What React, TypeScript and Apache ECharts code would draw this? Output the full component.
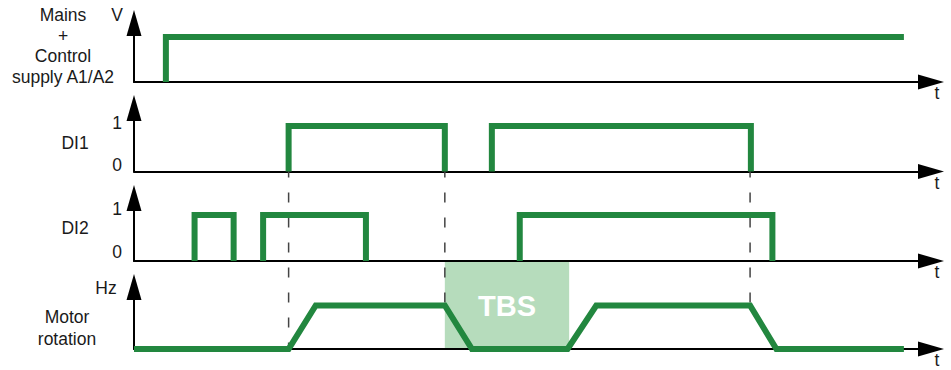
import React, { useEffect, useRef } from 'react';
import * as echarts from 'echarts';

// ---- data (time units 0..100 on each strip, level 0..1) ----
const stripNames = ['Mains\n+\nControl\nsupply A1/A2', 'DI1', 'DI2', 'Motor\nrotation'];
const unitLabels = ['V', '', '', 'Hz'];
const levelLabels = ['0', '1'];
const timeLabel = 't';

const mainsPulses = [
  [[4.0, 0], [4.0, 1], [96.6, 1]],
];
const di1Pulses = [
  [[19.4, 0], [19.4, 1], [39.0, 1], [39.0, 0]],
  [[44.9, 0], [44.9, 1], [77.4, 1], [77.4, 0]],
];
const di2Pulses = [
  [[7.6, 0], [7.6, 1], [12.5, 1], [12.5, 0]],
  [[16.2, 0], [16.2, 1], [29.1, 1], [29.1, 0]],
  [[48.4, 0], [48.4, 1], [80.1, 1], [80.1, 0]],
];
const motorSpeed = [
  [0, 0], [19.4, 0], [22.8, 1], [39.0, 1], [42.4, 0], [54.4, 0],
  [58.0, 1], [77.3, 1], [80.6, 0], [96.6, 0],
];
const tbsWindow = [39.0, 54.6];
const tbsLabel = 'TBS';
const syncMarks = [19.4, 39.0, 77.3];
const syncEnds = [0, 1, 1];

const GREEN = '#22873f';
const FONT = '"Liberation Sans", Arial, sans-serif';

const grids = [
  { top: 23, height: 59, yMax: 1.311 },
  { top: 108, height: 63.5, yMax: 1.396 },
  { top: 198, height: 63, yMax: 1.37 },
  { top: 287, height: 62, yMax: 1.425 },
];

export default function App() {
  const ref = useRef<HTMLDivElement>(null);
  useEffect(() => {
    if (!ref.current) return;
    const chart = echarts.init(ref.current, null, { renderer: 'svg' });
    const strips = [mainsPulses, di1Pulses, di2Pulses, [motorSpeed]];
    const series: any[] = [];
    strips.forEach((pulses, i) => {
      pulses.forEach((pts) => {
        series.push({
          type: 'line',
          xAxisIndex: i,
          yAxisIndex: i,
          data: pts,
          symbol: 'none',
          clip: false,
          z: 3,
          lineStyle: { color: GREEN, width: 6, join: 'miter', cap: 'butt' },
        });
      });
    });
    const axisLine = (w: number) => ({
      show: true,
      onZero: false,
      symbol: ['none', 'triangle'],
      symbolSize: [w, 26],
      lineStyle: { color: '#000', width: 2 },
    });
    const option: any = {
      animation: false,
      grid: grids.map((g) => ({ left: 134, right: 20, top: g.top, height: g.height })),
      xAxis: grids.map((g, i) => ({
        type: 'value', gridIndex: i, min: 0, max: 100, z: 1,
        axisLine: axisLine(15), axisTick: { show: false }, axisLabel: { show: false }, splitLine: { show: false },
      })),
      yAxis: grids.map((g, i) => ({
        type: 'value', gridIndex: i, min: 0, max: g.yMax, z: 1,
        axisLine: axisLine(15), axisTick: { show: false }, axisLabel: { show: false }, splitLine: { show: false },
      })),
      series,
    };
    chart.setOption(option);

    const px = (gi: number, x: number, y: number) =>
      chart.convertToPixel({ gridIndex: gi } as any, [x, y]) as number[];

    const graphic: any[] = [];
    const a = px(3, tbsWindow[0], 0);
    const b = px(2, tbsWindow[1], 0);
    graphic.push({
      type: 'rect', z: 0,
      shape: { x: a[0], y: b[1], width: b[0] - a[0], height: a[1] - b[1] },
      style: { fill: '#b6dcbc' },
    });
    graphic.push({
      type: 'text', z: 5,
      x: (a[0] + b[0]) / 2, y: px(3, 0, 1)[1] + 1,
      style: { text: tbsLabel, fill: '#fff', font: `bold 29px ${FONT}`, align: 'center', verticalAlign: 'middle' },
    });
    syncMarks.forEach((m, i) => {
      const p1 = px(1, m, 0);
      const p2 = px(3, m, syncEnds[i]);
      graphic.push({
        type: 'line', z: 2,
        shape: { x1: p1[0], y1: p1[1], x2: p2[0], y2: p2[1] },
        style: { stroke: '#444', lineWidth: 1.5, lineDash: [10, 15], lineDashOffset: 4 },
      });
    });
    const txt = (text: string, x: number, y: number, lh = 20.7) => ({
      type: 'text', z: 5, x, y,
      style: { text, fill: '#1a1a1a', font: `17.5px ${FONT}`, align: 'center', verticalAlign: 'middle', lineHeight: lh },
    });
    graphic.push(txt(stripNames[0], 63, 46));
    graphic.push(txt(stripNames[1], 75, 143));
    graphic.push(txt(stripNames[2], 75, 228));
    graphic.push(txt(stripNames[3], 67, 328, 22));
    graphic.push(txt(unitLabels[0], 117, 15));
    graphic.push(txt(unitLabels[3], 106, 288));
    graphic.push(txt(levelLabels[1], 117, 123));
    graphic.push(txt(levelLabels[0], 117, 165));
    graphic.push(txt(levelLabels[1], 117, 209));
    graphic.push(txt(levelLabels[0], 117, 252));
    [93, 183, 272, 360].forEach((y) => graphic.push(txt(timeLabel, 937, y, 16)));
    chart.setOption({ graphic });

    return () => chart.dispose();
  }, []);
  return (
    <div
      ref={ref}
      style={{ position: 'fixed', left: 0, top: 0, width: 951, height: 370, background: '#fff' }}
    />
  );
}
